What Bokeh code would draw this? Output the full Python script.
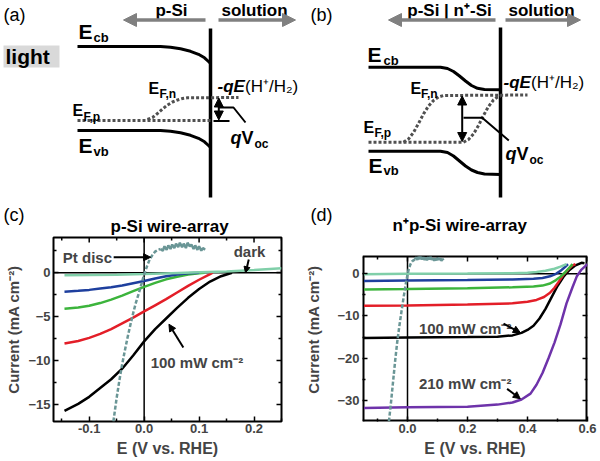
import math
from bokeh.plotting import figure
from bokeh.models import (Range1d, Arrow, NormalHead, Label, Span, LinearAxis, FixedTicker,
                          PrintfTickFormatter, BasicTickFormatter, CustomJSTickFormatter)
from bokeh.layouts import column, row
from bokeh.embed import file_html
from bokeh.resources import INLINE
from bokeh.core.properties import value

FONT = "Liberation Sans"

# ---------------- schematic band diagrams (panel px units) ----------------
a_ecb_x = [77, 160, 170, 180, 190, 198, 204, 208, 210]
a_ecb_y = [46, 46, 46.8, 48.3, 50.8, 53.8, 57.3, 61, 63]
a_evb_x = [77, 160, 170, 180, 190, 198, 204, 208, 210]
a_evb_y = [130, 130, 130.8, 132.3, 134.8, 137.8, 141.3, 145, 147]
a_efp_x = [77, 210]
a_efp_y = [120, 120]
a_efn_x = [147, 152, 157, 162, 167, 172, 177, 182, 187, 238]
a_efn_y = [119, 117, 113, 108.5, 104.5, 101.5, 99.5, 98, 97.3, 97]

b_ecb_x = [368, 440, 447, 453, 459, 465, 471, 477, 484, 500]
b_ecb_y = [66.7, 66.7, 68, 71, 75.5, 80.5, 85, 87.8, 89, 89.3]
b_evb_x = [368, 440, 447, 453, 459, 465, 471, 477, 484, 500]
b_evb_y = [150.7, 150.7, 152, 155.5, 160.5, 165.5, 169.5, 172, 173.5, 174]
b_efn_x = [403, 408, 413, 418, 423, 428, 433, 438, 443, 527]
b_efn_y = [141.7, 138.5, 132, 123, 113.5, 105.5, 100, 96.5, 95, 94.5]
b_efp_x = [368, 463, 468, 473, 478, 483, 488, 493, 497, 500]
b_efp_y = [141.7, 141.7, 139, 133.5, 125, 115, 106, 99.5, 96.5, 95.5]

# ---------------- panel (c): p-Si wire array ----------------
c_xticks = [-0.1, 0.0, 0.1, 0.2]
c_xminor = [-0.15, -0.05, 0.05, 0.15, 0.25]
c_yticks = [-15, -10, -5, 0]
c_yminor = [-12.5, -7.5, -2.5, 2.5]

c_dark_x = [-0.145, -0.1, -0.05, 0.0, 0.05, 0.1, 0.15, 0.2, 0.25]
c_dark_y = [-0.3, -0.27, -0.22, -0.15, -0.05, 0.05, 0.15, 0.3, 0.5]
c_blue_x = [-0.145, -0.12, -0.1, -0.08, -0.06, -0.04, -0.02, 0.0, 0.02, 0.04, 0.06, 0.08, 0.1]
c_blue_y = [-2.15, -2.05, -1.95, -1.8, -1.65, -1.45, -1.2, -0.95, -0.65, -0.4, -0.2, -0.07, 0.0]
c_green_x = [-0.145, -0.12, -0.1, -0.08, -0.06, -0.04, -0.02, 0.0, 0.02, 0.04, 0.06, 0.08, 0.1, 0.11]
c_green_y = [-4.1, -3.95, -3.75, -3.45, -3.05, -2.6, -2.1, -1.6, -1.15, -0.75, -0.45, -0.2, -0.05, 0.0]
c_red_x = [-0.145, -0.12, -0.1, -0.08, -0.06, -0.04, -0.02, 0.0, 0.02, 0.04, 0.06, 0.08, 0.1, 0.12, 0.125]
c_red_y = [-8.05, -7.75, -7.4, -6.95, -6.4, -5.75, -5.1, -4.4, -3.7, -3.0, -2.25, -1.5, -0.8, -0.15, 0.0]
c_black_x = [-0.145, -0.12, -0.1, -0.08, -0.06, -0.04, -0.02, 0.0, 0.02, 0.04, 0.06, 0.08, 0.1, 0.12, 0.14, 0.16]
c_black_y = [-15.7, -14.9, -14.1, -13.1, -12.1, -10.9, -9.4, -7.8, -6.4, -5.2, -4.0, -2.85, -1.85, -1.0, -0.4, 0.0]
c_pt_x = [-0.056, -0.05, -0.045, -0.04, -0.035, -0.03, -0.025, -0.02, -0.015, -0.01, -0.005, 0.0,
          0.005, 0.01, 0.015, 0.02, 0.025, 0.03]
c_pt_y = [-16.9, -14.2, -12.2, -10.4, -8.8, -7.3, -5.9, -4.6, -3.4, -2.4, -1.3, -0.2,
          0.7, 1.5, 2.0, 2.4, 2.6, 2.7]
c_ptp_x = [0.030, 0.034, 0.037, 0.041, 0.044, 0.048, 0.051, 0.055, 0.058, 0.062, 0.065, 0.069,
           0.072, 0.076, 0.079, 0.083, 0.086, 0.090, 0.093, 0.097, 0.100, 0.104, 0.107, 0.111]
c_ptp_y = [2.7, 2.5, 3.0, 2.6, 3.1, 2.7, 3.2, 2.8, 3.3, 2.9, 3.4, 2.9,
           3.3, 2.8, 3.4, 3.0, 3.2, 2.7, 3.1, 2.6, 3.0, 2.5, 2.8, 2.6]

# ---------------- panel (d): n+p-Si wire array ----------------
d_xticks = [0.0, 0.2, 0.4, 0.6]
d_xminor = [-0.1, 0.1, 0.3, 0.5]
d_yticks = [-30, -20, -10, 0]
d_yminor = [-25, -15, -5]

d_mint_x = [-0.145, 0.0, 0.2, 0.35, 0.4, 0.43, 0.46, 0.49, 0.51, 0.53]
d_mint_y = [-0.1, 0.0, 0.05, 0.15, 0.25, 0.4, 0.7, 1.2, 1.7, 2.3]
d_blue_x = [-0.145, 0.0, 0.2, 0.35, 0.42, 0.45, 0.475, 0.495, 0.51, 0.525, 0.535]
d_blue_y = [-1.7, -1.6, -1.5, -1.35, -1.2, -1.0, -0.6, 0.0, 0.7, 1.6, 2.3]
d_green_x = [-0.145, 0.0, 0.2, 0.35, 0.42, 0.45, 0.475, 0.495, 0.51, 0.525, 0.54, 0.55]
d_green_y = [-3.7, -3.6, -3.4, -3.2, -3.0, -2.8, -2.3, -1.5, -0.7, 0.3, 1.5, 2.3]
d_red_x = [-0.145, 0.0, 0.2, 0.35, 0.4, 0.43, 0.455, 0.475, 0.49, 0.505, 0.52, 0.535, 0.55, 0.56]
d_red_y = [-7.6, -7.5, -7.3, -7.0, -6.6, -6.2, -5.5, -4.5, -3.3, -1.8, -0.2, 1.0, 2.0, 2.3]
d_black_x = [-0.145, 0.0, 0.2, 0.3, 0.35, 0.38, 0.4, 0.42, 0.44, 0.46, 0.48, 0.5, 0.52, 0.54, 0.56, 0.58, 0.59]
d_black_y = [-15.2, -15.1, -15.0, -14.9, -14.6, -14.0, -13.3, -12.3, -10.6, -8.3, -5.6, -2.9, -0.7, 0.9, 2.0, 2.6, 2.5]
d_purple_x = [-0.145, 0.0, 0.2, 0.3, 0.35, 0.38, 0.41, 0.43, 0.45, 0.47, 0.49, 0.51, 0.53, 0.55, 0.565, 0.58, 0.6]
d_purple_y = [-31.8, -31.6, -31.5, -31.0, -30.5, -29.8, -28.4, -26.3, -23.5, -20.0, -16.3, -12.0, -7.0, -3.2, -0.5, 1.0, 2.3]
d_pt_x = [-0.062, -0.055, -0.048, -0.041, -0.034, -0.027, -0.02, -0.013, -0.006, 0.0, 0.005, 0.01, 0.015, 0.02, 0.025]
d_pt_y = [-35.0, -30.5, -25.5, -20.5, -16.0, -12.3, -8.9, -5.6, -2.5, -0.2, 1.3, 2.3, 2.9, 3.2, 3.4]
d_ptp_x = [0.025, 0.029, 0.033, 0.037, 0.041, 0.045, 0.049, 0.053, 0.057, 0.061, 0.065, 0.069, 0.073,
           0.077, 0.081, 0.085, 0.089, 0.093, 0.097, 0.101, 0.105, 0.109, 0.113, 0.117, 0.12]
d_ptp_y = [3.4, 3.9, 3.3, 4.0, 3.5, 4.0, 3.4, 3.9, 3.3, 3.8, 3.2, 3.9, 3.4,
           4.0, 3.3, 3.7, 3.1, 3.6, 3.2, 3.8, 3.3, 3.7, 3.1, 3.5, 3.2]

MINT, BLUE, GREEN, RED, PURPLE, PT = "#80cfa9", "#1e3f9e", "#3cb43c", "#e31e28", "#6e33aa", "#6a9696"
GRAY = "#808080"
DOT = "#505050"

# ======================= top: band diagrams + panel headings =======================
TOP_H = 235
top = figure(width=600, height=TOP_H, x_range=Range1d(0, 600), y_range=Range1d(TOP_H, 0),
             output_backend="svg", toolbar_location=None, x_axis_type=None, y_axis_type=None,
             min_border=0, outline_line_color=None, title=None)


def T(xs, ys, texts, size, style="bold", align="left", color="black"):
    top.text(x=xs, y=ys, text=texts, text_font=value(FONT), text_font_size=size,
             text_font_style=style, text_align=align, text_baseline="middle", text_color=color)


# light box
top.quad(left=[3], right=[59], top=[45], bottom=[67], fill_color="#d9d9d9", line_color=None)
T([5], [56], ["light"], "21px")
T([3, 310, 3, 310], [14, 14, 214.5, 214.5], ["(a)", "(b)", "(c)", "(d)"], "18px", style="normal")

# panel titles of the J-E plots
T([110, 392], [225.5, 225], ["p-Si wire-array", "n⁺p-Si wire-array"], "17px")

# header arrows
for xs, xe in [(205, 123), (218, 295), (495, 388), (505, 580)]:
    top.add_layout(Arrow(end=NormalHead(size=13, fill_color=GRAY, line_color=GRAY),
                         x_start=xs, y_start=19.5, x_end=xe, y_end=19.5,
                         line_color=GRAY, line_width=3.5))
T([171, 254, 449, 541], [9.5, 9.5, 9.5, 9.5], ["p-Si", "solution", "p-Si | n⁺-Si", "solution"],
  "17px", align="center")

# interfaces
top.line([210, 210], [28, 197], line_color="black", line_width=3.5)
top.line([500, 500], [27, 197], line_color="black", line_width=3.5)

# bands
for xs, ys in [(a_ecb_x, a_ecb_y), (a_evb_x, a_evb_y), (b_ecb_x, b_ecb_y), (b_evb_x, b_evb_y)]:
    top.line(xs, ys, line_color="black", line_width=3)
for xs, ys in [(a_efp_x, a_efp_y), (a_efn_x, a_efn_y), (b_efn_x, b_efn_y), (b_efp_x, b_efp_y)]:
    top.line(xs, ys, line_color=DOT, line_width=3, line_dash="3 2")

# qVoc arrows
for x0, y0, y1 in [(218.3, 97.5, 119.5), (461.7, 95.5, 141)]:
    top.add_layout(Arrow(start=NormalHead(size=9, fill_color="black", line_color="black"),
                         end=NormalHead(size=9, fill_color="black", line_color="black"),
                         x_start=x0, y_start=y0, x_end=x0, y_end=y1,
                         line_color="black", line_width=2))
top.line([213, 229], [120.5, 120.5], line_color="black", line_width=2)
top.line([218, 233, 245], [107, 107, 122], line_color="black", line_width=2)
top.line([463, 481.7, 508.3], [117.3, 117.3, 140], line_color="black", line_width=2)

# band labels
T([78, 78, 367, 368], [30.5, 144.5, 54, 164.5], ["E", "E", "E", "E"], "21px")
T([93, 93, 383, 383], [36.5, 151, 59.5, 170], ["cb", "vb", "cb", "vb"], "13px")
T([148, 72, 410, 363], [87.5, 110, 87.5, 127], ["E", "E", "E", "E"], "16px")
T([159, 83, 420.5, 374], [93.5, 116, 93.5, 132.5], ["F,n", "F,p", "F,n", "F,p"], "12px")
T([217, 503], [86, 81.5], ["-qE", "-qE"], "17px", style="bold italic")
T([244.5, 530.5], [86, 81.5], ["(H⁺/H₂)", "(H⁺/H₂)"], "17px", style="normal")
T([230, 505], [137.5, 153.5], ["q", "q"], "18px", style="bold italic")
T([241, 516], [137.5, 153.5], ["V", "V"], "18px")
T([254, 529], [143.5, 159.5], ["oc", "oc"], "12px")


# ======================= bottom: J-E plots =======================
def style_axis(ax, ticker, fmt):
    ax.ticker = ticker
    ax.formatter = fmt
    ax.axis_line_color = None
    ax.major_tick_in = 5
    ax.major_tick_out = 0
    ax.minor_tick_in = 3
    ax.minor_tick_out = 0
    ax.major_tick_line_width = 1.5
    ax.minor_tick_line_width = 1.5
    ax.major_label_text_font = FONT
    ax.major_label_text_font_style = "bold"
    ax.major_label_text_font_size = "13px"
    ax.axis_label_text_font = FONT
    ax.axis_label_text_font_style = "bold"


def make_plot(xr, yr, xt, xm, yt, ym, mb, ylab_standoff, box_top=None):
    # box_top: upper edge of the drawn axes box (data units) when it lies below the view top
    p = figure(width=300, height=461 - TOP_H, x_range=Range1d(*xr), y_range=Range1d(*yr),
               output_backend="svg", toolbar_location=None, title=None,
               min_border_left=mb[0], min_border_right=mb[1], min_border_top=mb[2], min_border_bottom=mb[3],
               x_axis_label="E (V vs. RHE)", y_axis_label="Current (mA cm⁻²)")
    p.grid.visible = False
    xtk = FixedTicker(ticks=xt, minor_ticks=xm)
    ytk = FixedTicker(ticks=yt, minor_ticks=ym)
    style_axis(p.xaxis[0], xtk, PrintfTickFormatter(format="%.1f"))
    style_axis(p.yaxis[0], ytk, BasicTickFormatter())
    p.xaxis[0].axis_label_text_font_size = "16px"
    p.yaxis[0].axis_label_text_font_size = "15px"
    p.xaxis[0].major_label_standoff = 2
    p.xaxis[0].axis_label_standoff = 4
    p.yaxis[0].major_label_standoff = 3
    p.yaxis[0].axis_label_standoff = ylab_standoff
    # mirrored inward ticks on the right frame edge
    ax = LinearAxis(major_label_standoff=0, axis_label_standoff=0, fixed_location=xr[1])
    style_axis(ax, ytk, CustomJSTickFormatter(code="return ''"))
    ax.major_label_text_font_size = "0px"
    p.add_layout(ax, "right")
    p.add_layout(Span(location=0, dimension="width", line_color="black", line_width=1.5, level="underlay"))
    if box_top is None:
        top_edge = yr[1]
        p.outline_line_color = "black"
        p.outline_line_width = 2
        p.add_layout(Span(location=0, dimension="height", line_color="black", line_width=1.5, level="underlay"))
    else:
        top_edge = box_top
        p.outline_line_color = None
        p.segment(x0=[xr[0], xr[1], xr[0]], y0=[yr[0], yr[0], yr[0]],
                  x1=[xr[0], xr[1], xr[1]], y1=[box_top, box_top, yr[0]],
                  line_color="black", line_width=4)
        p.segment(x0=[xr[0]], y0=[box_top], x1=[xr[1]], y1=[box_top], line_color="black", line_width=2)
        p.segment(x0=[0], y0=[yr[0]], x1=[0], y1=[box_top], line_color="black", line_width=1.5,
                  level="underlay")
    # mirrored inward ticks on the top edge (drawn from the same tick lists)
    p.ray(x=list(xt) + list(xm), y=[top_edge] * (len(xt) + len(xm)),
          length=[5] * len(xt) + [3] * len(xm), length_units="screen",
          angle=-math.pi / 2, line_color="black", line_width=1.5)
    return p


def lab(p, x, y, text, size="15px", style="bold", baseline="middle"):
    p.add_layout(Label(x=x, y=y, text=text, text_font=FONT, text_font_size=size,
                       text_font_style=style, text_baseline=baseline, text_align="left"))


def arr(p, x0, y0, x1, y1, size=7):
    p.add_layout(Arrow(end=NormalHead(size=size, fill_color="black", line_color="black"),
                       x_start=x0, y_start=y0, x_end=x1, y_end=y1, line_color="black", line_width=2))


pc = make_plot((-0.165, 0.25), (-16.9, 4.0), c_xticks, c_xminor, c_yticks, c_yminor,
               (53, 19, 237 - TOP_H, 40), 3)
for xs, ys, col in [(c_black_x, c_black_y, "black"), (c_red_x, c_red_y, RED),
                    (c_green_x, c_green_y, GREEN), (c_blue_x, c_blue_y, BLUE),
                    (c_dark_x, c_dark_y, MINT)]:
    pc.line(xs, ys, line_color=col, line_width=2.5)
pc.line(c_pt_x, c_pt_y, line_color=PT, line_width=2.5, line_dash="4 2")
pc.line(c_ptp_x, c_ptp_y, line_color=PT, line_width=2.5)
lab(pc, -0.148, 1.76, "Pt disc")
arr(pc, -0.0555, 1.76, 0.0118, 1.76)
lab(pc, 0.163, 2.44, "dark")
arr(pc, 0.1905, 1.5, 0.1845, 0.0, size=6)
lab(pc, 0.0118, -10.17, "100 mW cm⁻²")
arr(pc, 0.0713, -8.5, 0.0451, -5.85)

pd = make_plot((-0.15, 0.6), (-35.0, 8.6), d_xticks, d_xminor, d_yticks, d_yminor,
               (62, 13, 237 - TOP_H, 40), 12, box_top=4.1)
for xs, ys, col in [(d_purple_x, d_purple_y, PURPLE), (d_black_x, d_black_y, "black"),
                    (d_red_x, d_red_y, RED), (d_green_x, d_green_y, GREEN),
                    (d_blue_x, d_blue_y, BLUE), (d_mint_x, d_mint_y, MINT)]:
    pd.line(xs, ys, line_color=col, line_width=2.5)
pd.line(d_pt_x, d_pt_y, line_color=PT, line_width=2.5, line_dash="4 2")
pd.line(d_ptp_x, d_ptp_y, line_color=PT, line_width=2.5)
lab(pd, 0.038, -13.0, "100 mW cm⁻²")
arr(pd, 0.32, -11.82, 0.376, -13.95)
lab(pd, 0.038, -26.0, "210 mW cm⁻²")
arr(pd, 0.332, -27.26, 0.376, -29.6)

layout = column(top, row(pc, pd))
open("out.html", "w").write(file_html(layout, INLINE, "plot"))
